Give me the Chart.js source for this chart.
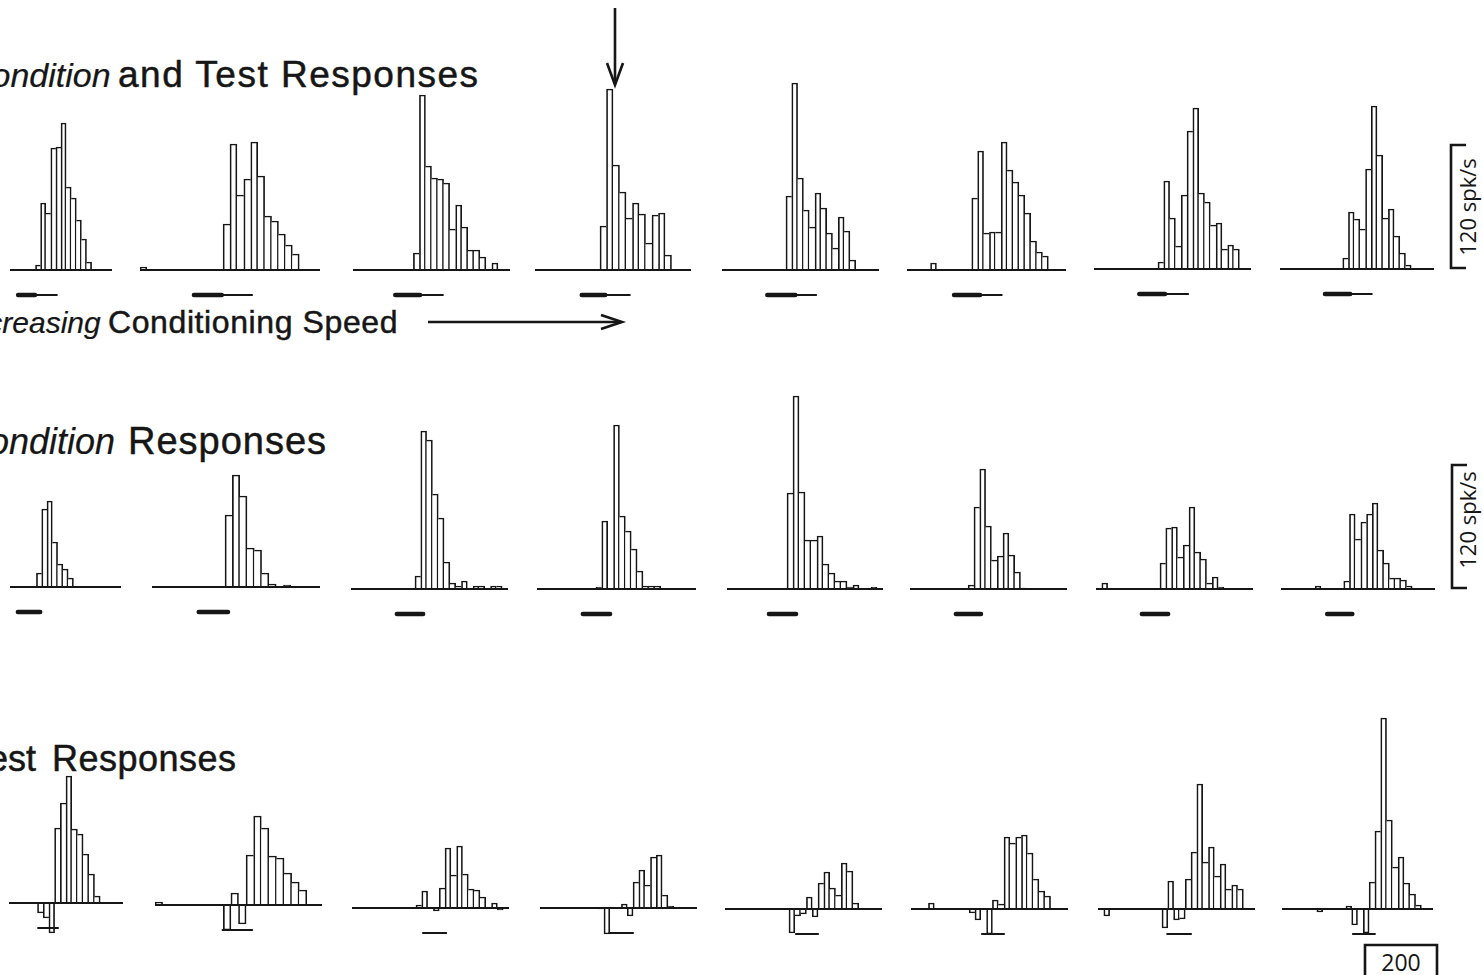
<!DOCTYPE html>
<html>
<head>
<meta charset="utf-8">
<title>Condition and Test Responses</title>
<script src="https://cdn.jsdelivr.net/npm/chart.js@4.4.0/dist/chart.umd.min.js"></script>
<style>
  html, body { margin: 0; padding: 0; background: #fff; }
  body { position: relative; width: 1483px; height: 975px; overflow: hidden; color: #161616;
         font-family: 'Liberation Sans', Arial, sans-serif; }
  canvas { position: absolute; }
  .t { position: absolute; white-space: nowrap; line-height: 1; -webkit-text-stroke: 0.5px #161616; }
  .i { font-style: italic; -webkit-text-stroke: 0.2px #161616; }
  svg { position: absolute; left: 0; top: 0; }
</style>
</head>
<body>

<!-- titles -->
<div class="t i" style="left:-33px;top:58px;font-size:34px">Condition</div>
<div class="t" style="left:118px;top:56px;font-size:37px;letter-spacing:1.5px">and Test Responses</div>
<div class="t i" style="left:-51px;top:308px;font-size:30px">Decreasing</div>
<div class="t" style="left:108px;top:306px;font-size:32px;letter-spacing:0.6px">Conditioning Speed</div>
<div class="t i" style="left:-37px;top:424px;font-size:36px">Condition</div>
<div class="t" style="left:128px;top:422px;font-size:38px;letter-spacing:1px">Responses</div>
<div class="t" style="left:-30px;top:741px;font-size:36px">Test</div>
<div class="t" style="left:52px;top:741px;font-size:36px;letter-spacing:0.5px">Responses</div>

<svg width="1483" height="975" viewBox="0 0 1483 975">
  <g stroke="#161616" fill="none" stroke-width="2.6">
    <!-- arrow marking the selected condition -->
    <line x1="615" y1="8" x2="615" y2="84"/>
    <polyline points="607,63 615,85 623,63"/>
    <!-- speed arrow -->
    <line x1="428" y1="322" x2="621" y2="322"/>
    <polyline points="601,315 622,322 601,329"/>
    <!-- scale brackets -->
    <path d="M1466,145 H1451 V268 H1466"/>
    <path d="M1467,465 H1452 V588 H1467"/>
    <path d="M1365,975 V945 H1437 V975"/>
  </g>
  <g fill="#161616" font-family="'Open Sans', sans-serif" font-size="22" text-anchor="middle">
    <text transform="translate(1476,207) rotate(-90)">120 spk/s</text>
    <text transform="translate(1476,520) rotate(-90)">120 spk/s</text>
    <text x="1401" y="971" font-size="23">200</text>
  </g>
</svg>

<script>
// ---- data: firing rate per bin (spk/s), one array per panel ----
// Row 1: condition + test responses
const pairedP1 = [0,0,0,0,0,5,67,57,122,123,147,83,72,50,31,8,0,0,0,0];
const pairedP2 = [3,0,0,0,0,0,0,0,0,0,0,0,46,126,75,91,128,94,54,49,36,25,16,0,0,0];
const pairedP3 = [0,0,0,0,0,0,0,0,0,0,17,175,104,92,91,87,41,65,43,20,20,13,0,7,0,0];
const pairedP4 = [0,0,0,0,0,0,0,0,0,0,44,181,105,78,52,67,56,27,55,57,15,0,0,0];
const pairedP5 = [0,0,0,0,0,0,0,0,0,0,0,74,187,92,60,43,77,62,37,22,53,39,10,0,0,0,0];
const pairedP6 = [0,0,0,0,7,0,0,0,0,0,0,72,119,37,38,38,128,100,88,75,57,29,18,14,0,0,0];
const pairedP7 = [0,0,0,0,0,0,0,0,0,0,0,7,88,51,23,74,138,161,76,67,44,46,20,24,20,0,0];
const pairedP8 = [0,0,0,0,0,0,0,0,0,0,0,11,57,50,40,100,163,114,51,60,33,16,4,0,0,0,0];

// Row 2: condition responses alone
const condP1 = [0,0,0,0,0,14,78,86,45,23,18,9,0,0,0,0,0,0,0,0,0];
const condP2 = [0,0,0,0,0,0,0,0,0,0,72,112,91,39,37,14,3,0,2,0,0,0,0];
const condP3 = [0,0,0,0,0,0,0,0,0,0,0,13,158,149,95,71,27,6,3,8,0,3,3,0,3,3,0];
const condP4 = [0,0,0,0,0,0,0,0,0,0,2,68,0,164,73,58,40,18,3,3,3,0,0,0,0,0,0];
const condP5 = [0,0,0,0,0,0,0,0,0,0,96,193,97,49,49,53,25,16,8,8,2,4,0,0,2,0];
const condP6 = [0,0,0,0,0,0,0,0,0,0,4,82,120,63,29,33,56,34,17,1,0,0,0,0,0,0,0];
const condP7 = [0,6,0,0,0,0,0,0,0,0,0,26,61,62,32,44,82,37,30,6,12,2,0,0,0,0,0];
const condP8 = [0,0,0,0,0,0,3,0,0,0,0,8,75,50,67,75,86,39,26,11,11,9,3,0,0,0,0];

// Row 3: test responses (paired minus condition)
const testP1 = [0,0,0,0,0,-10,-15,-30,75,100,127,74,69,49,29,7,0,0,0,0];
const testP2 = [3,0,0,0,0,0,0,0,0,-25,12,-19,50,89,77,49,47,32,23,15,0,0];
const testP3 = [0,0,0,0,0,0,0,0,0,0,0,3,17,0,-3,20,60,33,62,34,19,18,11,0,5,-2,0];
const testP4 = [0,0,0,0,0,0,0,0,0,0,-1,-26,0,0,4,-8,26,38,23,51,53,13,2,0,0,0,0];
const testP5 = [0,0,0,0,0,0,0,0,0,0,0,-24,-7,-5,12,-8,26,37,21,14,46,38,6,0,0,0,0];
const testP6 = [0,0,0,6,0,0,0,0,0,0,-4,-11,0,-25,9,5,72,66,72,74,56,30,18,13,0,0,0];
const testP7 = [0,-7,0,0,0,0,0,0,0,0,0,-19,28,-11,-10,30,57,125,47,62,33,45,20,24,20,0,0];
const testP8 = [0,0,0,0,0,0,-3,0,0,0,0,3,-16,0,-24,27,78,191,89,42,52,26,15,4,0,0];

// stimulus timing in bins: [onset, end of thick part, end of sweep]
const pairedStim = [[1.6,4.9,9.2],[7.8,11.8,16.2],[7.0,11.1,14.9],[7.2,10.8,14.6],
                    [7.8,12.6,16.2],[8.0,12.4,16.1],[7.8,12.2,16.2],[7.9,12.3,16.1]];
const condStim = [[1.5,5.7],[6.4,10.4],[7.9,12.4],[7.8,12.4],[7.0,11.5],[7.9,12.2],[7.9,12.4],[8.1,12.5]];
const testStim = [[5.1,8.6],[8.9,12.8],[12.2,16.2],[11.9,16.0],[12.2,16.0],[12.2,16.0],[11.9,16.0],[12.2,16.0]];

// ---- layout ----
const INK = '#161616';
const EDGE = 1.7;
const UP = 210, DOWN = 40, STIM_DROP = 25;

const rows = [
  { kind: 'paired', stim: pairedStim,
    panels: [pairedP1, pairedP2, pairedP3, pairedP4, pairedP5, pairedP6, pairedP7, pairedP8],
    x0: [10, 140, 353, 535, 722, 907, 1094, 1280],
    bw: [5.1, 6.92, 6.04, 6.5, 5.8, 5.9, 5.8, 5.7],
    base: [270, 270, 270, 270, 270, 270, 269, 269] },
  { kind: 'cond', stim: condStim,
    panels: [condP1, condP2, condP3, condP4, condP5, condP6, condP7, condP8],
    x0: [10, 152, 351, 537, 727, 910, 1096, 1281],
    bw: [5.3, 7.3, 5.8, 5.9, 6.0, 5.8, 5.8, 5.7],
    base: [587, 587, 589, 589, 589, 589, 589, 589] },
  { kind: 'test', stim: testStim,
    panels: [testP1, testP2, testP3, testP4, testP5, testP6, testP7, testP8],
    x0: [9, 155, 352, 540, 725, 911, 1098, 1282],
    bw: [5.7, 7.6, 5.8, 5.8, 5.8, 5.8, 5.8, 5.8],
    base: [903, 905, 908, 908, 909, 909, 909, 909] }
];

// shared edges between neighbouring bins are drawn once, by the taller bin
function edges(c) {
  const d = c.dataset.data, i = c.dataIndex, v = d[i];
  if (!v) return 0;
  const p = d[i - 1] || 0, n = d[i + 1] || 0;
  const same = (a) => Math.sign(a) === Math.sign(v);
  return {
    top: EDGE, bottom: EDGE,
    left: (!same(p) || Math.abs(p) < Math.abs(v)) ? EDGE : 0,
    right: (!same(n) || Math.abs(n) <= Math.abs(v)) ? EDGE : 0
  };
}

function buildPanel(values, stim, kind, x0, bw, base) {
  const cv = document.createElement('canvas');
  cv.width = Math.round(values.length * bw);
  cv.height = UP + DOWN;
  cv.style.left = x0 + 'px';
  cv.style.top = (base - UP) + 'px';
  document.body.appendChild(cv);

  // baseline + stimulus marker
  const trace = {
    id: 'trace',
    afterDatasetsDraw(chart) {
      const { ctx, chartArea: a, scales: { x, y } } = chart;
      const step = a.width / values.length;
      const binX = (b) => x.getPixelForValue(0) - step / 2 + b * step;
      const y0 = Math.round(y.getPixelForValue(0));
      ctx.save();
      ctx.strokeStyle = INK;
      ctx.lineWidth = 2.2;
      ctx.beginPath(); ctx.moveTo(a.left, y0); ctx.lineTo(a.right, y0); ctx.stroke();

      const ys = y0 + STIM_DROP;
      ctx.lineCap = 'round';
      if (kind === 'test') {
        ctx.lineWidth = 2;
        ctx.beginPath(); ctx.moveTo(binX(stim[0]), ys); ctx.lineTo(binX(stim[1]), ys); ctx.stroke();
      } else {
        ctx.lineWidth = 4.6;
        ctx.beginPath(); ctx.moveTo(binX(stim[0]), ys); ctx.lineTo(binX(stim[1]), ys); ctx.stroke();
        if (stim[2]) {
          ctx.lineWidth = 1.8;
          ctx.beginPath(); ctx.moveTo(binX(stim[1]), ys); ctx.lineTo(binX(stim[2]), ys); ctx.stroke();
        }
      }
      ctx.restore();
    }
  };

  return new Chart(cv, {
    type: 'bar',
    data: {
      labels: values.map((_, i) => i),
      datasets: [{
        data: values,
        backgroundColor: '#fff',
        borderColor: INK,
        borderWidth: edges,
        barPercentage: 1,
        categoryPercentage: 1
      }]
    },
    options: {
      responsive: false,
      animation: false,
      events: [],
      layout: { padding: 0 },
      plugins: { legend: { display: false }, tooltip: { enabled: false } },
      scales: {
        x: { display: false },
        y: { display: false, min: -DOWN, max: UP }
      }
    },
    plugins: [trace]
  });
}

rows.forEach(r => {
  r.panels.forEach((vals, k) => {
    buildPanel(vals, r.stim[k], r.kind, r.x0[k], r.bw[k], r.base[k]);
  });
});
</script>
</body>
</html>
